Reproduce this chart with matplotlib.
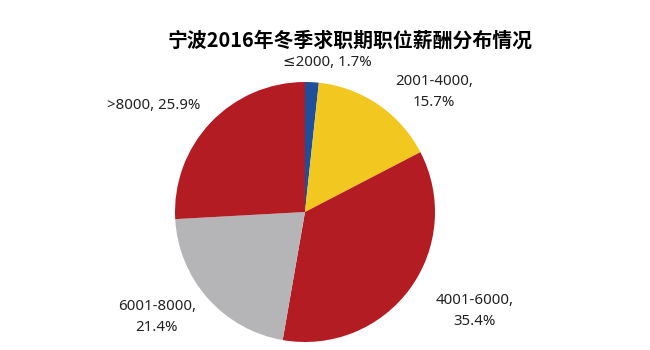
import matplotlib
matplotlib.use("Agg")
import matplotlib.pyplot as plt

plt.rcParams["font.family"] = ["Noto Sans CJK SC", "DejaVu Sans"]

# data
categories = ["≤2000", "2001-4000", "4001-6000", "6001-8000", ">8000"]
shares = [1.7, 15.7, 35.4, 21.4, 25.9]
colors = ["#1F4E9B", "#F2C71F", "#B41C24", "#B5B5B7", "#B41C24"]
title = "宁波2016年冬季求职期职位薪酬分布情况"

W, H = 650, 350
fig = plt.figure(figsize=(W / 100, H / 100), dpi=100)

# pie: centre (305, 212) px, radius 130 px
cx, cy, r = 305, 212, 130
ax = fig.add_axes([(cx - r) / W, (H - cy - r) / H, 2 * r / W, 2 * r / H])
ax.pie(shares, colors=colors, startangle=90, counterclock=False,
       wedgeprops=dict(linewidth=0))
ax.set_xlim(-1, 1)
ax.set_ylim(-1, 1)
ax.set_aspect("equal")
ax.axis("off")

fig.text(350 / W, 1 - 40 / H, title, ha="center", va="center",
         fontsize=14.3, fontweight="bold")

# label positions in pixels (x, y from top)
label_pos = [(327, 63), (434, 92), (475, 311), (157, 317), (154, 105)]
two_line = [False, True, True, True, False]
for cat, val, (px, py), tl in zip(categories, shares, label_pos, two_line):
    sep = ",\n" if tl else ", "
    fig.text(px / W, 1 - py / H, f"{cat}{sep}{val}%", ha="center", va="center",
             fontsize=10.8, linespacing=1.5, color="#222222",
             family=["Noto Sans", "DejaVu Sans"])

fig.savefig("out.png", dpi=100)
